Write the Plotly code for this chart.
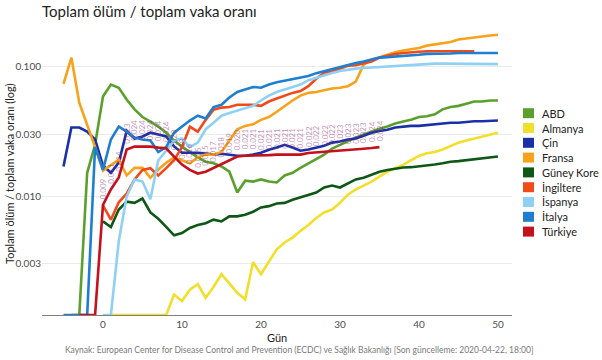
import math
import plotly.graph_objects as go

# ---------------- data ----------------
countries = ["ABD", "Almanya", "Çin", "Fransa", "Güney Kore", "İngiltere", "İspanya", "İtalya", "Türkiye"]
colors = ["#5BA02E", "#F2DF2C", "#1B2FA6", "#F7A21B", "#0E5716", "#F2491B", "#8FD0F5", "#1E7FD0", "#C4111B"]

abd_start = -4
abd = [0, 0, 0.0152, 0.025, 0.059, 0.073, 0.069, 0.056, 0.047, 0.041, 0.0378, 0.0346, 0.031, 0.027,
       0.0242, 0.022, 0.020, 0.0185, 0.018, 0.017, 0.0155, 0.0107, 0.0132, 0.013, 0.0135, 0.013, 0.0128,
       0.0145, 0.0152, 0.0166, 0.0179, 0.0192, 0.021, 0.0234, 0.025, 0.0265, 0.0284, 0.030, 0.0317,
       0.0333, 0.0346, 0.0365, 0.0378, 0.039, 0.041, 0.0416, 0.043, 0.047, 0.049, 0.050, 0.052, 0.054,
       0.054, 0.055, 0.055]

almanya_start = 1
almanya = [0, 0, 0, 0, 0, 0, 0, 0, 0.00174, 0.00155, 0.0019, 0.0021, 0.00164, 0.002, 0.0025, 0.0021,
           0.0018, 0.0016, 0.0031, 0.0025, 0.0031, 0.0039, 0.0044, 0.0048, 0.0054, 0.006, 0.0068, 0.0075,
           0.0079, 0.0089, 0.0103, 0.0113, 0.0121, 0.013, 0.0142, 0.0155, 0.0165, 0.0175, 0.019, 0.0205,
           0.0215, 0.022, 0.023, 0.0245, 0.026, 0.027, 0.028, 0.029, 0.030, 0.031]

cin_start = -5
cin = [0.017, 0.034, 0.034, 0.0316, 0.0275, 0.0173, 0.0152, 0.0182, 0.032, 0.028, 0.029, 0.031, 0.030,
       0.029, 0.0243, 0.0217, 0.0217, 0.0217, 0.0214, 0.021, 0.0213, 0.021, 0.0206, 0.0206, 0.021, 0.0217,
       0.0229, 0.0238, 0.025, 0.0238, 0.0225, 0.023, 0.0238, 0.0246, 0.026, 0.0265, 0.0275, 0.028, 0.0294,
       0.031, 0.032, 0.0327, 0.034, 0.0346, 0.035, 0.035, 0.0356, 0.036, 0.0365, 0.037, 0.037, 0.0375,
       0.038, 0.038, 0.0385, 0.0385]

fransa_start = -5
fransa = [0.074, 0.118, 0.053, 0.036, 0.024, 0.0158, 0.0173, 0.0192, 0.0145, 0.0166, 0.0166, 0.0139,
          0.0161, 0.0182, 0.020, 0.019, 0.018, 0.020, 0.021, 0.021, 0.022, 0.027, 0.033, 0.035, 0.036,
          0.039, 0.041, 0.045, 0.050, 0.055, 0.060, 0.063, 0.064, 0.066, 0.068, 0.069, 0.071, 0.077, 0.104,
          0.114, 0.118, 0.124, 0.13, 0.134, 0.137, 0.14, 0.146, 0.149, 0.152, 0.156, 0.163, 0.166, 0.17,
          0.172, 0.175, 0.177]

kore_start = 0
kore = [0.0064, 0.0058, 0.0079, 0.0091, 0.0089, 0.0096, 0.0075, 0.0067, 0.0058, 0.0050, 0.0052, 0.0057,
        0.0060, 0.0062, 0.0066, 0.0064, 0.0070, 0.0070, 0.0072, 0.0076, 0.0082, 0.0084, 0.0088, 0.0089,
        0.0094, 0.0098, 0.0103, 0.0107, 0.0117, 0.0121, 0.0117, 0.0125, 0.0135, 0.0139, 0.0147, 0.0155,
        0.016, 0.0164, 0.0167, 0.0168, 0.017, 0.0173, 0.0176, 0.018, 0.0185, 0.0187, 0.019, 0.0192, 0.0195,
        0.0199, 0.0203]

ingiltere_start = 0
ingiltere = [0.0085, 0.0066, 0.009, 0.0105, 0.0135, 0.016, 0.0165, 0.0145, 0.0165, 0.019, 0.024, 0.0345,
             0.0316, 0.039, 0.0467, 0.0485, 0.049, 0.051, 0.051, 0.051, 0.05, 0.054, 0.057, 0.06, 0.063,
             0.065, 0.071, 0.081, 0.090, 0.092, 0.097, 0.102, 0.103, 0.106, 0.11, 0.118, 0.122, 0.126,
             0.128, 0.13, 0.131, 0.132, 0.132, 0.133, 0.133, 0.133, 0.133, 0.132]

ispanya_start = 0
ispanya = [0, 0, 0.0045, 0.010, 0.0135, 0.013, 0.0095, 0.019, 0.0225, 0.027, 0.028, 0.024, 0.026, 0.033,
           0.037, 0.042, 0.044, 0.046, 0.048, 0.050, 0.055, 0.060, 0.064, 0.067, 0.070, 0.073, 0.079,
           0.0826, 0.086, 0.0898, 0.093, 0.0952, 0.097, 0.098, 0.099, 0.100, 0.101, 0.102, 0.103, 0.104,
           0.105, 0.105, 0.106, 0.106, 0.106, 0.106, 0.106, 0.106, 0.105, 0.105, 0.105]

italya_start = -5
italya = [0, 0, 0, 0, 0.024, 0.016, 0.0275, 0.0346, 0.0316, 0.0284, 0.0275, 0.027, 0.022, 0.024, 0.031,
          0.0346, 0.0385, 0.042, 0.040, 0.049, 0.051, 0.058, 0.064, 0.067, 0.070, 0.069, 0.073, 0.076,
          0.078, 0.080, 0.083, 0.085, 0.0895, 0.093, 0.0965, 0.10, 0.103, 0.107, 0.11, 0.114, 0.118, 0.119,
          0.12, 0.122, 0.123, 0.124, 0.126, 0.126, 0.127, 0.127, 0.128, 0.128, 0.128, 0.128, 0.128, 0.128]

turkiye_start = -3
turkiye = [0, 0, 0, 0.0086, 0.0113, 0.014, 0.023, 0.0242, 0.0242, 0.0242, 0.0238, 0.0235, 0.0203, 0.0176,
           0.016, 0.015, 0.0155, 0.0166, 0.0179, 0.0192, 0.0203, 0.0206, 0.0206, 0.0207, 0.0208, 0.021,
           0.021, 0.021, 0.021, 0.0216, 0.0218, 0.022, 0.0223, 0.0226, 0.0229, 0.023, 0.0233, 0.0236, 0.0240]

series = [(abd_start, abd), (almanya_start, almanya), (cin_start, cin), (fransa_start, fransa),
          (kore_start, kore), (ingiltere_start, ingiltere), (ispanya_start, ispanya),
          (italya_start, italya), (turkiye_start, turkiye)]

y_ticks = [0.003, 0.010, 0.030, 0.100]
y_tick_labels = ["0.003", "0.010", "0.030", "0.100"]
x_ticks = [0, 10, 20, 30, 40, 50]

title_text = "Toplam ölüm / toplam vaka oranı"
y_title = "Toplam ölüm / toplam vaka oranı (log)"
x_title = "Gün"
caption = ("Kaynak: European Center for Disease Control and Prevention (ECDC) ve Sağlık Bakanlığı "
           "[Son güncelleme: 2020-04-22, 18:00]")

# ---------------- figure ----------------
W, H = 602, 360
ML, MR, MT, MB = 42, 90, 33, 45
YLOG_RANGE = [-2.917, -0.738]
XRANGE = [-7.72, 51.78]
FLOOR = 10 ** YLOG_RANGE[0]   # zeros are drawn on the panel floor
FONT = "Lato, 'Noto Sans', sans-serif"

fig = go.Figure()
for name, color, (start, vals) in zip(countries, colors, series):
    days = list(range(start, start + len(vals)))
    yv = [v if v > 0 else FLOOR for v in vals]
    fig.add_trace(go.Scatter(x=days, y=yv, mode="lines", name=name,
                             line=dict(color=color, width=2.6), showlegend=False))

plot_w = W - ML - MR
plot_h = H - MT - MB
def px_to_paper_x(px):
    return (px - ML) / plot_w
def px_to_paper_y(py):
    return (H - MB - py) / plot_h

annotations = []
# value labels above Türkiye points
t_days = list(range(turkiye_start, turkiye_start + len(turkiye)))
for d, v in zip(t_days, turkiye):
    if v <= 0:
        continue
    annotations.append(dict(x=d, y=math.log10(v), xref="x", yref="y",
                            text=f"{v:.3f}", showarrow=False, textangle=-90,
                            yanchor="bottom", xanchor="center", yshift=4,
                            font=dict(family=FONT, size=8, color="rgba(150,50,120,0.55)")))

# y axis title (placed manually to stay inside the fixed margin)
annotations.append(dict(x=px_to_paper_x(9), y=px_to_paper_y(174), xref="paper", yref="paper",
                        text=y_title, showarrow=False, textangle=-90,
                        xanchor="center", yanchor="middle",
                        font=dict(family=FONT, size=11, color="#222222")))
# x axis title
annotations.append(dict(x=px_to_paper_x(277), y=px_to_paper_y(337), xref="paper", yref="paper",
                        text=x_title, showarrow=False, xanchor="center", yanchor="middle",
                        font=dict(family=FONT, size=11, color="#222222")))

# manual legend
shapes = []
leg_top = 113.2
leg_step = 14.8
for i, (name, color) in enumerate(zip(countries, colors)):
    cy = leg_top + i * leg_step
    shapes.append(dict(type="rect", xref="paper", yref="paper",
                       x0=px_to_paper_x(523), x1=px_to_paper_x(534),
                       y0=px_to_paper_y(cy - 5), y1=px_to_paper_y(cy + 5),
                       fillcolor=color, line=dict(width=0)))
    annotations.append(dict(x=px_to_paper_x(540), y=px_to_paper_y(cy), xref="paper", yref="paper",
                            text=name, showarrow=False, xanchor="left", yanchor="middle",
                            font=dict(family=FONT, size=11, color="#222222")))

annotations.append(dict(x=px_to_paper_x(299), y=px_to_paper_y(350), xref="paper", yref="paper",
                        text=caption, showarrow=False, xanchor="center", yanchor="middle",
                        font=dict(family=FONT, size=8.5, color="#7a7a7a")))

fig.update_layout(
    width=W, height=H,
    margin=dict(l=ML, r=MR, t=MT, b=MB, autoexpand=False),
    paper_bgcolor="white", plot_bgcolor="white",
    font=dict(family=FONT, color="#333333"),
    hovermode=False,
    title=dict(text=title_text, x=px_to_paper_x(42), xref="paper", xanchor="left",
               y=1 - 12 / H, yref="container", yanchor="middle", automargin=False,
               font=dict(family=FONT, size=15, color="#222222")),
    xaxis=dict(range=XRANGE, tickvals=x_ticks, showgrid=False, zeroline=False,
               showline=True, linecolor="#7f7f7f", linewidth=1, ticks="", automargin=False,
               tickfont=dict(size=10, color="#4d4d4d")),
    yaxis=dict(type="log", range=YLOG_RANGE, tickvals=y_ticks, ticktext=y_tick_labels,
               showgrid=True, gridcolor="#ebebeb", gridwidth=1, zeroline=False, showline=False,
               ticks="", automargin=False, tickfont=dict(size=10, color="#4d4d4d")),
    shapes=shapes,
    annotations=annotations,
)

fig.write_html("out.html",
               config={"displayModeBar": False, "staticPlot": True},
               post_script="document.body.style.margin='0';document.body.style.padding='0';"
                           "document.body.style.overflow='hidden';")
